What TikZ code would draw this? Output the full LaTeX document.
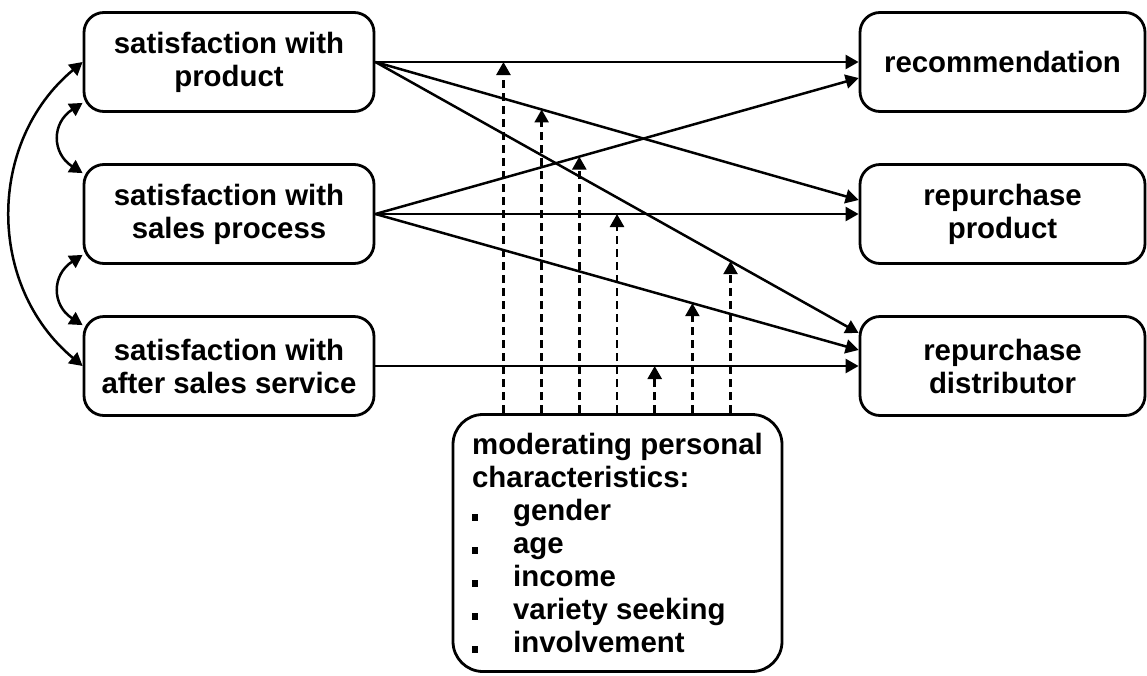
\documentclass[tikz,border=0pt]{standalone}
\usepackage{fontspec}
\setmainfont{Liberation Sans}
\usetikzlibrary{arrows.meta,calc}

\begin{document}
\begin{tikzpicture}[x=1pt,y=-1pt,
  box/.style={draw,line width=2.8pt,rounded corners=20pt,inner sep=0pt,
    minimum width=290pt,minimum height=99pt,align=center,
    font=\fontsize{29.4}{33}\selectfont\bfseries},
  conn/.style={line width=2.5pt,-{Triangle[length=13pt,width=14pt]}},
  both/.style={line width=2.5pt,{Triangle[length=13pt,width=14pt]}-{Triangle[length=13pt,width=14pt]}},
  mod/.style={conn,dash pattern=on 8pt off 5pt}]
  \useasboundingbox (0,0) rectangle (1147,675);

  % predictors
  \node[box] (sp) at (229,62)  {satisfaction with\\product};
  \node[box] (ss) at (229,214) {satisfaction with\\sales process};
  \node[box] (sa) at (229,366) {satisfaction with\\after sales service};

  % outcomes
  \node[box,minimum width=285pt] (rec) at (1002.5,62)  {recommendation};
  \node[box,minimum width=285pt] (rp)  at (1002.5,214) {repurchase\\product};
  \node[box,minimum width=285pt] (rd)  at (1002.5,366) {repurchase\\distributor};

  % moderators
  \node[box,rounded corners=30pt,minimum width=329pt,minimum height=257pt,align=left]
    (mc) at (617.5,543)
    {moderating personal\\characteristics:\\
     \makebox[41pt][l]{\rule[-1pt]{6pt}{7pt}}gender\\
     \makebox[41pt][l]{\rule[-1pt]{6pt}{7pt}}age\\
     \makebox[41pt][l]{\rule[-1pt]{6pt}{7pt}}income\\
     \makebox[41pt][l]{\rule[-1pt]{6pt}{7pt}}variety seeking\\
     \makebox[41pt][l]{\rule[-1pt]{6pt}{7pt}}involvement};

  % arrow end points on the outcome boxes
  \coordinate (recB) at ([yshift=-16pt]rec.west);
  \coordinate (rpA)  at ([yshift=14pt]rp.west);
  \coordinate (rdA)  at ([yshift=33pt]rd.west);
  \coordinate (rdB)  at ([yshift=16pt]rd.west);

  % direct effects
  \draw[conn] (sp.east) -- (rec.west);
  \draw[conn] (sp.east) -- (rpA);
  \draw[conn] (sp.east) -- (rdA);
  \draw[conn] (ss.east) -- (recB);
  \draw[conn] (ss.east) -- (rp.west);
  \draw[conn] (ss.east) -- (rdB);
  \draw[conn] (sa.east) -- (rd.west);

  % moderation points on each path
  \coordinate (m1) at ($(sp.east)!0.265!(rec.west)$);
  \coordinate (m2) at ($(sp.east)!0.344!(rpA)$);
  \coordinate (m3) at ($(ss.east)!0.422!(recB)$);
  \coordinate (m4) at ($(ss.east)!0.500!(rp.west)$);
  \coordinate (m5) at ($(sa.east)!0.578!(rd.west)$);
  \coordinate (m6) at ($(ss.east)!0.656!(rdB)$);
  \coordinate (m7) at ($(sp.east)!0.735!(rdA)$);
  \foreach \m in {m1,m2,m3,m4,m5,m6,m7}
    \draw[mod] (\m |- mc.north) -- (\m);

  % correlations among predictors
  \coordinate (c1a) at ([yshift=10pt]sp.south west);
  \coordinate (c1b) at ([yshift=-10pt]ss.north west);
  \coordinate (c2a) at ([yshift=10pt]ss.south west);
  \coordinate (c2b) at ([yshift=-10pt]sa.north west);
  \draw[both] (c1a) .. controls ([xshift=-31pt,yshift=-20pt]c1a) and ([xshift=-31pt,yshift=20pt]c1b) .. (c1b);
  \draw[both] (c2a) .. controls ([xshift=-31pt,yshift=-20pt]c2a) and ([xshift=-31pt,yshift=20pt]c2b) .. (c2b);
  \draw[both] (sp.west) .. controls ([xshift=-96pt,yshift=-80pt]sp.west) and ([xshift=-96pt,yshift=80pt]sa.west) .. (sa.west);
\end{tikzpicture}
\end{document}
